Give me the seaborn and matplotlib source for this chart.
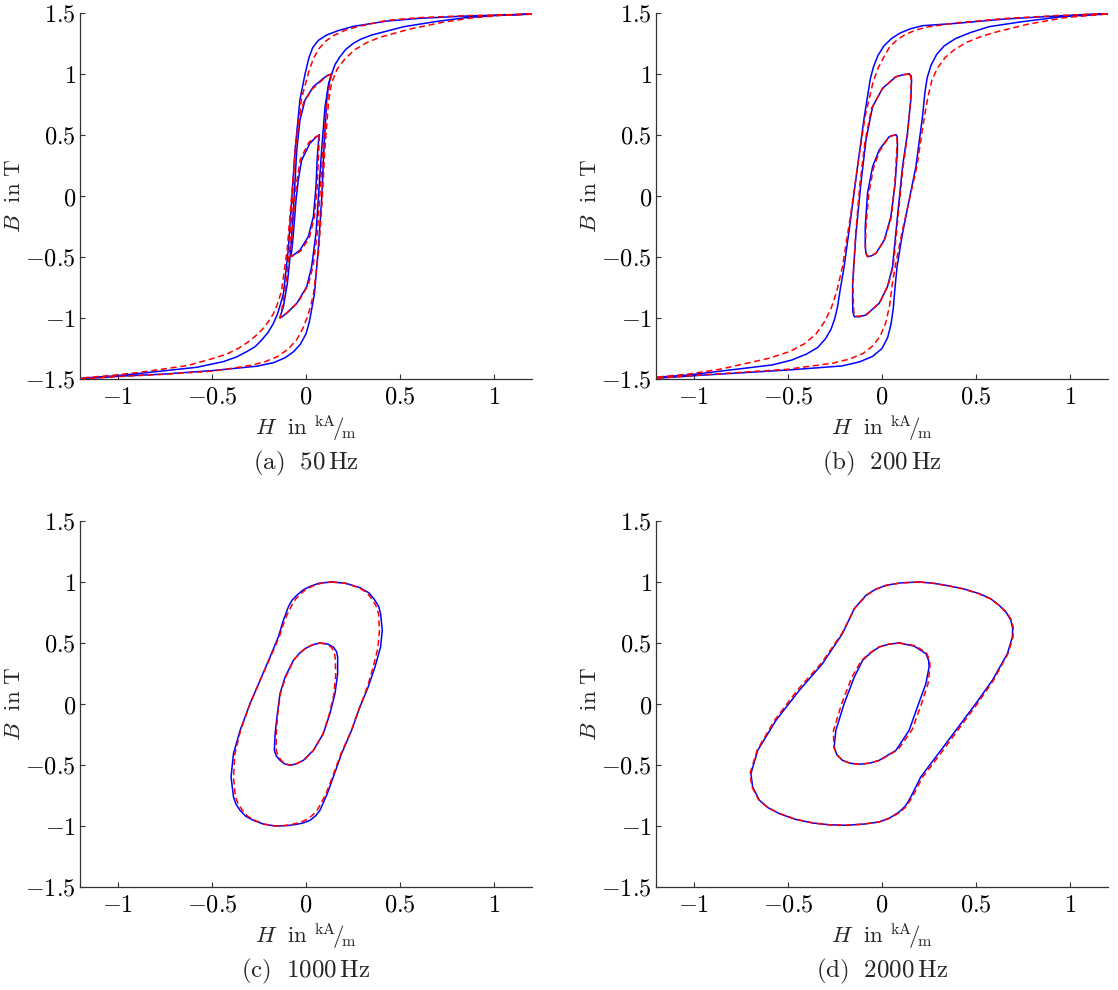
import matplotlib
matplotlib.use("Agg")
import matplotlib.pyplot as plt
import seaborn as sns
import pandas as pd

# ---------------- data (H in kA/m, B in T) ----------------
# Panel (a) 50 Hz : major loop (descending then ascending branch), +-1 T loop, +-0.5 T loop
A_MAJ_H_MEAS = [1.20, 0.85, 0.60, 0.43, 0.25, 0.17, 0.11, 0.065, 0.035, 0.015, -0.005, -0.032, -0.058, -0.076, -0.094, -0.12, -0.138, -0.152, -0.173, -0.20, -0.235, -0.27, -0.315, -0.37, -0.44, -0.58, -0.845, -1.02, -1.20,
                -1.20, -1.00, -0.76, -0.49, -0.26, -0.17, -0.11, -0.065, -0.03, 0.0, 0.018, 0.03, 0.045, 0.065, 0.083, 0.095, 0.11, 0.12, 0.136, 0.155, 0.18, 0.21, 0.25, 0.29, 0.35, 0.52, 0.69, 0.85, 1.05, 1.20]
A_MAJ_B_MEAS = [1.49, 1.475, 1.456, 1.434, 1.39, 1.355, 1.32, 1.275, 1.215, 1.13, 1.0, 0.79, 0.38, -0.03, -0.44, -0.80, -0.90, -0.97, -1.044, -1.115, -1.18, -1.235, -1.276, -1.32, -1.358, -1.404, -1.448, -1.475, -1.494,
                -1.50, -1.478, -1.46, -1.43, -1.395, -1.365, -1.325, -1.275, -1.215, -1.13, -1.03, -0.93, -0.80, -0.44, -0.03, 0.38, 0.79, 0.92, 1.0, 1.08, 1.14, 1.20, 1.25, 1.285, 1.32, 1.388, 1.43, 1.462, 1.484, 1.492]
A_MAJ_H_SIM = [1.20, 0.85, 0.60, 0.43, 0.28, 0.21, 0.15, 0.105, 0.07, 0.04, 0.015, -0.025, -0.055, -0.078, -0.10, -0.13, -0.155, -0.175, -0.20, -0.23, -0.27, -0.31, -0.36, -0.42, -0.49, -0.63, -0.88, -1.04, -1.20,
               -1.20, -1.00, -0.76, -0.49, -0.30, -0.22, -0.15, -0.095, -0.05, -0.015, 0.01, 0.025, 0.04, 0.068, 0.086, 0.10, 0.12, 0.135, 0.165, 0.21, 0.26, 0.32, 0.39, 0.55, 0.72, 0.87, 1.05, 1.20]
A_MAJ_B_SIM = [1.49, 1.478, 1.462, 1.44, 1.39, 1.36, 1.318, 1.27, 1.21, 1.13, 1.02, 0.79, 0.38, -0.03, -0.44, -0.78, -0.90, -0.97, -1.03, -1.09, -1.15, -1.20, -1.25, -1.295, -1.33, -1.39, -1.445, -1.472, -1.492,
               -1.50, -1.48, -1.462, -1.435, -1.39, -1.36, -1.315, -1.255, -1.18, -1.08, -0.98, -0.90, -0.80, -0.44, -0.03, 0.38, 0.78, 0.92, 1.04, 1.13, 1.20, 1.255, 1.30, 1.368, 1.422, 1.458, 1.482, 1.492]
A_MID_H_MEAS = [0.136, 0.115, 0.092, 0.039, -0.005, -0.032, -0.049, -0.064, -0.081, -0.099, -0.120, -0.132, -0.138, -0.123, -0.103, -0.049, 0.004, 0.030, 0.053, 0.065, 0.083, 0.101, 0.118, 0.128, 0.136]
A_MID_B_MEAS = [1.0, 0.99, 0.964, 0.896, 0.787, 0.623, 0.377, -0.033, -0.443, -0.716, -0.907, -0.965, -1.0, -0.985, -0.962, -0.880, -0.743, -0.579, -0.306, -0.033, 0.377, 0.732, 0.896, 0.96, 1.0]
A_MID_H_SIM = [0.136, 0.113, 0.09, 0.035, -0.012, -0.04, -0.058, -0.072, -0.088, -0.106, -0.126, -0.134, -0.138, -0.12, -0.10, -0.042, 0.012, 0.038, 0.06, 0.072, 0.09, 0.108, 0.124, 0.131, 0.136]
A_MID_B_SIM = [1.0, 0.985, 0.955, 0.88, 0.77, 0.61, 0.37, -0.03, -0.44, -0.72, -0.91, -0.965, -1.0, -0.98, -0.955, -0.87, -0.73, -0.57, -0.30, -0.03, 0.38, 0.74, 0.90, 0.96, 1.0]
A_IN_H_MEAS = [0.071, 0.048, 0.021, -0.023, -0.041, -0.053, -0.064, -0.073, -0.080, -0.058, -0.032, 0.012, 0.039, 0.053, 0.060, 0.067, 0.071]
A_IN_B_MEAS = [0.50, 0.475, 0.432, 0.295, 0.131, -0.033, -0.252, -0.416, -0.497, -0.475, -0.443, -0.334, -0.170, 0.076, 0.322, 0.459, 0.50]
A_IN_H_SIM = [0.071, 0.045, 0.015, -0.03, -0.048, -0.06, -0.07, -0.078, -0.080, -0.055, -0.028, 0.018, 0.045, 0.06, 0.066, 0.07, 0.071]
A_IN_B_SIM = [0.50, 0.478, 0.44, 0.30, 0.13, -0.03, -0.25, -0.42, -0.497, -0.478, -0.45, -0.34, -0.17, 0.08, 0.32, 0.46, 0.50]

# Panel (b) 200 Hz
B_MAJ_H_MEAS = [1.2, 0.922, 0.657, 0.392, 0.215, 0.15, 0.095, 0.05, 0.01, -0.022, -0.045, -0.062, -0.094, -0.130, -0.165, -0.201, -0.22, -0.236, -0.25, -0.27, -0.30, -0.34, -0.40, -0.48, -0.584, -0.849, -1.026, -1.2,
                -1.2, -0.938, -0.496, -0.213, -0.12, -0.05, 0.0, 0.03, 0.048, 0.06, 0.068, 0.080, 0.109, 0.144, 0.180, 0.215, 0.228, 0.24, 0.26, 0.29, 0.33, 0.39, 0.47, 0.569, 0.745, 0.958, 1.2]
B_MAJ_B_MEAS = [1.497, 1.475, 1.451, 1.415, 1.396, 1.37, 1.335, 1.29, 1.23, 1.15, 1.06, 0.96, 0.650, 0.240, -0.170, -0.579, -0.75, -0.907, -1.0, -1.09, -1.17, -1.24, -1.295, -1.345, -1.385, -1.434, -1.467, -1.486,
                -1.494, -1.467, -1.426, -1.393, -1.36, -1.315, -1.25, -1.16, -1.05, -0.92, -0.77, -0.579, -0.306, -0.033, 0.240, 0.650, 0.85, 0.97, 1.07, 1.16, 1.23, 1.29, 1.34, 1.388, 1.429, 1.470, 1.492]
B_MAJ_H_SIM = [1.2, 0.92, 0.66, 0.40, 0.24, 0.18, 0.125, 0.08, 0.04, 0.01, -0.02, -0.048, -0.09, -0.13, -0.168, -0.21, -0.24, -0.27, -0.305, -0.35, -0.41, -0.49, -0.60, -0.86, -1.03, -1.2,
               -1.2, -0.94, -0.50, -0.26, -0.17, -0.10, -0.05, -0.01, 0.02, 0.04, 0.055, 0.07, 0.105, 0.145, 0.185, 0.225, 0.245, 0.265, 0.295, 0.335, 0.385, 0.45, 0.53, 0.62, 0.78, 0.97, 1.2]
B_MAJ_B_SIM = [1.497, 1.478, 1.456, 1.42, 1.385, 1.36, 1.325, 1.28, 1.22, 1.14, 1.05, 0.93, 0.65, 0.24, -0.17, -0.58, -0.78, -0.92, -1.03, -1.13, -1.21, -1.275, -1.33, -1.42, -1.46, -1.485,
               -1.494, -1.465, -1.42, -1.37, -1.335, -1.29, -1.23, -1.15, -1.04, -0.90, -0.72, -0.579, -0.306, -0.033, 0.24, 0.65, 0.82, 0.95, 1.05, 1.135, 1.20, 1.26, 1.31, 1.35, 1.41, 1.462, 1.492]
B_MID_H_MEAS = [0.144, 0.115, 0.074, 0.003, -0.050, -0.085, -0.112, -0.138, -0.156, -0.156, -0.155, -0.147, -0.12, -0.085, -0.015, 0.029, 0.056, 0.082, 0.109, 0.135, 0.153, 0.157, 0.155, 0.144]
B_MID_B_MEAS = [1.0, 0.995, 0.978, 0.883, 0.732, 0.459, 0.104, -0.306, -0.716, -0.852, -0.95, -0.989, -0.99, -0.975, -0.880, -0.743, -0.579, -0.170, 0.240, 0.514, 0.787, 0.951, 0.985, 1.0]
B_MID_H_SIM = [0.144, 0.112, 0.07, 0.0, -0.055, -0.09, -0.117, -0.14, -0.155, -0.152, -0.15, -0.14, -0.115, -0.08, -0.01, 0.033, 0.06, 0.085, 0.112, 0.137, 0.152, 0.155, 0.152, 0.144]
B_MID_B_SIM = [1.0, 0.993, 0.975, 0.875, 0.72, 0.45, 0.10, -0.31, -0.72, -0.86, -0.95, -0.985, -0.985, -0.97, -0.87, -0.73, -0.57, -0.17, 0.24, 0.52, 0.79, 0.95, 0.985, 1.0]
B_IN_H_MEAS = [0.074, 0.058, 0.038, -0.015, -0.050, -0.077, -0.089, -0.089, -0.085, -0.077, -0.055, -0.032, 0.012, 0.047, 0.070, 0.082, 0.082, 0.080, 0.074]
B_IN_B_MEAS = [0.5, 0.497, 0.486, 0.377, 0.240, 0.022, -0.252, -0.416, -0.47, -0.497, -0.49, -0.470, -0.361, -0.170, 0.104, 0.377, 0.460, 0.49, 0.5]
B_IN_H_SIM = [0.074, 0.056, 0.035, -0.012, -0.045, -0.07, -0.085, -0.088, -0.084, -0.077, -0.054, -0.03, 0.015, 0.05, 0.068, 0.078, 0.08, 0.079, 0.074]
B_IN_B_SIM = [0.5, 0.495, 0.48, 0.37, 0.23, 0.02, -0.25, -0.42, -0.47, -0.497, -0.488, -0.465, -0.355, -0.17, 0.10, 0.37, 0.455, 0.49, 0.5]

# Panel (c) 1000 Hz
C_OUT_H_MEAS = [0.136, 0.21, 0.286, 0.335, 0.366, 0.386, 0.396, 0.405, 0.396, 0.366, 0.330, 0.286, 0.242, 0.189, 0.145, 0.113, 0.074, 0.05, 0.021, -0.015, -0.049, -0.10, -0.164, -0.225, -0.279, -0.32, -0.350, -0.372, -0.385, -0.398, -0.385, -0.350, -0.297, -0.244, -0.191, -0.147, -0.120, -0.094, -0.075, -0.049, -0.015, 0.021, 0.07, 0.136]
C_OUT_B_MEAS = [1.0, 0.99, 0.954, 0.91, 0.85, 0.80, 0.74, 0.604, 0.467, 0.303, 0.139, -0.025, -0.216, -0.407, -0.598, -0.735, -0.872, -0.918, -0.954, -0.975, -0.986, -0.997, -1.0, -0.985, -0.954, -0.92, -0.872, -0.82, -0.762, -0.598, -0.407, -0.216, 0.003, 0.194, 0.385, 0.549, 0.686, 0.795, 0.85, 0.891, 0.935, 0.964, 0.99, 1.0]
C_OUT_H_SIM = [0.136, 0.205, 0.28, 0.325, 0.355, 0.373, 0.385, 0.39, 0.382, 0.356, 0.325, 0.284, 0.24, 0.185, 0.14, 0.105, 0.06, 0.032, 0.0, -0.035, -0.07, -0.115, -0.164, -0.22, -0.27, -0.31, -0.338, -0.36, -0.375, -0.385, -0.378, -0.348, -0.298, -0.245, -0.19, -0.142, -0.11, -0.075, -0.055, -0.03, 0.0, 0.04, 0.085, 0.136]
C_OUT_B_SIM = [1.0, 0.99, 0.955, 0.91, 0.85, 0.80, 0.74, 0.60, 0.46, 0.30, 0.135, -0.03, -0.22, -0.41, -0.60, -0.74, -0.87, -0.915, -0.95, -0.972, -0.985, -0.996, -1.0, -0.985, -0.955, -0.92, -0.87, -0.82, -0.76, -0.60, -0.41, -0.22, 0.0, 0.19, 0.38, 0.55, 0.70, 0.81, 0.86, 0.90, 0.94, 0.97, 0.992, 1.0]
C_IN_H_MEAS = [0.074, 0.115, 0.145, 0.162, 0.168, 0.168, 0.154, 0.127, 0.092, 0.039, -0.014, -0.05, -0.085, -0.115, -0.138, -0.158, -0.168, -0.164, -0.152, -0.138, -0.111, -0.067, -0.038, -0.005, 0.035, 0.074]
C_IN_B_MEAS = [0.5, 0.492, 0.467, 0.43, 0.385, 0.249, 0.085, -0.079, -0.243, -0.380, -0.462, -0.49, -0.503, -0.49, -0.462, -0.425, -0.380, -0.243, -0.079, 0.085, 0.221, 0.358, 0.41, 0.454, 0.485, 0.5]
C_IN_H_SIM = [0.074, 0.108, 0.135, 0.15, 0.155, 0.158, 0.148, 0.124, 0.09, 0.04, -0.01, -0.05, -0.085, -0.11, -0.13, -0.148, -0.158, -0.158, -0.15, -0.136, -0.108, -0.065, -0.036, -0.005, 0.035, 0.074]
C_IN_B_SIM = [0.5, 0.49, 0.465, 0.425, 0.38, 0.245, 0.08, -0.08, -0.245, -0.38, -0.46, -0.488, -0.50, -0.49, -0.465, -0.425, -0.38, -0.245, -0.08, 0.085, 0.22, 0.36, 0.41, 0.455, 0.485, 0.5]

# Panel (d) 2000 Hz
D_OUT_H_MEAS = [0.197, 0.27, 0.339, 0.43, 0.516, 0.575, 0.622, 0.66, 0.684, 0.694, 0.692, 0.666, 0.586, 0.498, 0.392, 0.286, 0.206, 0.153, 0.125, 0.091, 0.04, -0.015, -0.10, -0.192, -0.28, -0.369, -0.46, -0.545, -0.605, -0.651, -0.687, -0.696, -0.660, -0.563, -0.439, -0.316, -0.210, -0.147, -0.085, -0.035, 0.021, 0.10, 0.197]
D_OUT_B_MEAS = [1.0, 0.99, 0.973, 0.945, 0.905, 0.865, 0.809, 0.75, 0.686, 0.62, 0.549, 0.413, 0.194, 0.003, -0.216, -0.434, -0.598, -0.762, -0.835, -0.885, -0.935, -0.967, -0.985, -0.994, -0.99, -0.975, -0.945, -0.899, -0.85, -0.789, -0.680, -0.571, -0.380, -0.134, 0.112, 0.331, 0.577, 0.782, 0.891, 0.94, 0.973, 0.993, 1.0]
D_OUT_H_SIM = [0.197, 0.27, 0.34, 0.43, 0.515, 0.575, 0.625, 0.665, 0.69, 0.698, 0.695, 0.668, 0.59, 0.505, 0.40, 0.295, 0.215, 0.16, 0.13, 0.095, 0.04, -0.02, -0.105, -0.195, -0.283, -0.37, -0.46, -0.545, -0.608, -0.655, -0.692, -0.700, -0.662, -0.568, -0.447, -0.322, -0.212, -0.145, -0.08, -0.03, 0.03, 0.105, 0.197]
D_OUT_B_SIM = [1.0, 0.99, 0.972, 0.944, 0.903, 0.862, 0.805, 0.745, 0.68, 0.615, 0.545, 0.41, 0.19, 0.0, -0.22, -0.44, -0.60, -0.765, -0.838, -0.888, -0.937, -0.968, -0.985, -0.994, -0.99, -0.974, -0.944, -0.897, -0.847, -0.785, -0.675, -0.565, -0.375, -0.128, 0.118, 0.335, 0.58, 0.785, 0.893, 0.942, 0.975, 0.993, 1.0]
D_IN_H_MEAS = [0.091, 0.17, 0.233, 0.247, 0.250, 0.233, 0.188, 0.144, 0.074, -0.015, -0.065, -0.121, -0.17, -0.210, -0.24, -0.254, -0.245, -0.201, -0.147, -0.103, -0.06, -0.015, 0.035, 0.091]
D_IN_B_MEAS = [0.5, 0.475, 0.413, 0.36, 0.303, 0.167, -0.025, -0.216, -0.380, -0.462, -0.485, -0.494, -0.485, -0.462, -0.415, -0.352, -0.216, 0.003, 0.221, 0.358, 0.42, 0.467, 0.49, 0.5]
D_IN_H_SIM = [0.091, 0.175, 0.235, 0.252, 0.255, 0.245, 0.205, 0.16, 0.085, -0.01, -0.062, -0.12, -0.168, -0.205, -0.238, -0.255, -0.258, -0.215, -0.16, -0.11, -0.065, -0.02, 0.035, 0.091]
D_IN_B_SIM = [0.5, 0.478, 0.42, 0.365, 0.31, 0.17, -0.02, -0.21, -0.375, -0.46, -0.484, -0.494, -0.486, -0.465, -0.42, -0.36, -0.22, 0.0, 0.22, 0.355, 0.418, 0.465, 0.49, 0.5]

CAPTIONS = [r"$\mathrm{(a)\ \ 50\,Hz}$", r"$\mathrm{(b)\ \ 200\,Hz}$",
            r"$\mathrm{(c)\ \ 1000\,Hz}$", r"$\mathrm{(d)\ \ 2000\,Hz}$"]
X_TICKS = [-1, -0.5, 0, 0.5, 1]
X_TICK_LABELS = [r"$-1$", r"$-0.5$", r"$0$", r"$0.5$", r"$1$"]
Y_TICKS = [-1.5, -1, -0.5, 0, 0.5, 1, 1.5]
Y_TICK_LABELS = [r"$-1.5$", r"$-1$", r"$-0.5$", r"$0$", r"$0.5$", r"$1$", r"$1.5$"]
X_LABEL = r"$H\ \ \mathrm{in}\ {}^{\mathrm{kA}}\!/\!{}_{\mathrm{m}}$"
Y_LABEL = r"$B\ \ \mathrm{in\ T}$"

PANELS = [
    [(A_MAJ_H_MEAS, A_MAJ_B_MEAS, A_MAJ_H_SIM, A_MAJ_B_SIM),
     (A_MID_H_MEAS, A_MID_B_MEAS, A_MID_H_SIM, A_MID_B_SIM),
     (A_IN_H_MEAS, A_IN_B_MEAS, A_IN_H_SIM, A_IN_B_SIM)],
    [(B_MAJ_H_MEAS, B_MAJ_B_MEAS, B_MAJ_H_SIM, B_MAJ_B_SIM),
     (B_MID_H_MEAS, B_MID_B_MEAS, B_MID_H_SIM, B_MID_B_SIM),
     (B_IN_H_MEAS, B_IN_B_MEAS, B_IN_H_SIM, B_IN_B_SIM)],
    [(C_OUT_H_MEAS, C_OUT_B_MEAS, C_OUT_H_SIM, C_OUT_B_SIM),
     (C_IN_H_MEAS, C_IN_B_MEAS, C_IN_H_SIM, C_IN_B_SIM)],
    [(D_OUT_H_MEAS, D_OUT_B_MEAS, D_OUT_H_SIM, D_OUT_B_SIM),
     (D_IN_H_MEAS, D_IN_B_MEAS, D_IN_H_SIM, D_IN_B_SIM)],
]

# ---------------- style ----------------
sns.set_theme(style="ticks")
plt.rcParams.update({
    "mathtext.fontset": "cm",
    "font.family": ["DejaVu Serif"],
    "font.size": 16,
    "axes.edgecolor": "#333333",
    "axes.linewidth": 0.9,
    "xtick.direction": "in",
    "ytick.direction": "in",
    "xtick.major.size": 3.5,
    "ytick.major.size": 3.5,
    "xtick.major.width": 0.8,
    "ytick.major.width": 0.8,
    "xtick.color": "#333333",
    "ytick.color": "#333333",
    "xtick.labelcolor": "black",
    "ytick.labelcolor": "black",
})

fig = plt.figure(figsize=(11.18, 9.9), dpi=100)
W, H = 1118.0, 990.0
ax_w, ax_h = 452 / W, 366 / H
positions = [(80 / W, (H - 379) / H), (656 / W, (H - 379) / H),
             (80 / W, (H - 887) / H), (656 / W, (H - 887) / H)]

dash = (0, (4.0, 2.4))
for i, (pos, curves) in enumerate(zip(positions, PANELS)):
    ax = fig.add_axes([pos[0], pos[1], ax_w, ax_h])
    for hm, bm, hs, bs in curves:
        dm = pd.DataFrame({"H": hm, "B": bm})
        ds = pd.DataFrame({"H": hs, "B": bs})
        sns.lineplot(data=dm, x="H", y="B", sort=False, estimator=None,
                     color="#0000ff", linewidth=1.1, ax=ax, zorder=2)
        sns.lineplot(data=ds, x="H", y="B", sort=False, estimator=None,
                     color="#ff0000", linewidth=1.1, linestyle=dash, ax=ax, zorder=3)
    ax.set_xlim(-1.2, 1.2)
    ax.set_ylim(-1.5, 1.5)
    ax.set_xticks(X_TICKS)
    ax.set_xticklabels(X_TICK_LABELS, fontsize=17.5)
    ax.set_yticks(Y_TICKS)
    ax.set_yticklabels(Y_TICK_LABELS, fontsize=17.5)
    ax.tick_params(axis="x", pad=5)
    ax.tick_params(axis="y", pad=3)
    sns.despine(ax=ax)
    ax.set_xlabel(X_LABEL, fontsize=16.5, labelpad=3)
    ax.set_ylabel(Y_LABEL, fontsize=16.5, labelpad=0)
    ax.text(0.5, -0.232, CAPTIONS[i], transform=ax.transAxes,
            ha="center", va="center", fontsize=18)

fig.savefig("out.png", dpi=100)
